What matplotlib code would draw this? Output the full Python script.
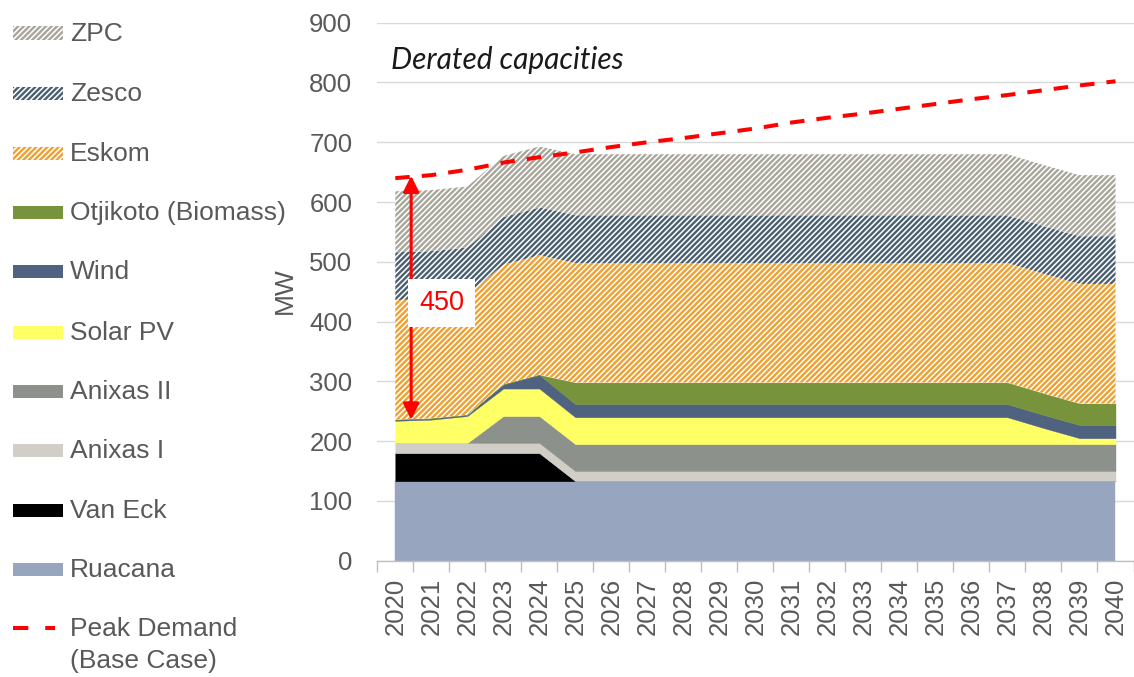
import matplotlib
matplotlib.use("Agg")
import matplotlib.pyplot as plt
import numpy as np
from matplotlib.patches import Rectangle
from matplotlib.lines import Line2D

plt.rcParams['font.family'] = ['Liberation Sans', 'DejaVu Sans']
plt.rcParams['hatch.linewidth'] = 1.7

# ---------------- data ----------------
years = list(range(2020, 2041))
ruacana   = [133] * 21
van_eck   = [47, 47, 47, 47, 47] + [0] * 16
anixas_1  = [17] * 21
anixas_2  = [0, 0, 0] + [45] * 18
solar_pv  = [37, 39, 45, 46, 46] + [45] * 13 + [27, 10, 10]
wind      = [2, 2, 2, 7, 23] + [22] * 16
otjikoto  = [0, 0, 0, 0, 0] + [36] * 16
eskom     = [200] * 21
zesco     = [80] * 21
zpc       = [102] * 21
peak_demand = [640, 645, 654, 666, 675, 683, 692, 700, 707, 715, 723,
               733, 741, 748, 756, 764, 772, 779, 787, 795, 802]
gap_label = "450"

series_names = ["Ruacana", "Van Eck", "Anixas I", "Anixas II", "Solar PV",
                "Wind", "Otjikoto (Biomass)", "Eskom", "Zesco", "ZPC"]
series_vals = [ruacana, van_eck, anixas_1, anixas_2, solar_pv,
               wind, otjikoto, eskom, zesco, zpc]
colors = ["#97A6BE", "#000000", "#D0CEC6", "#8C918B", "#FFFF66",
          "#4F6280", "#77933C", "#F0A030", "#4A6070", "#A8A59A"]
hatched = [False] * 7 + [True] * 3
HATCH = "//////"

# ---------------- figure ----------------
W, H = 1134, 677
fig = plt.figure(figsize=(W / 100, H / 100), dpi=100)
ax_left, ax_right = 377.3 / W, 1133.5 / W
ax_bottom, ax_top = 1 - 560.7 / H, 1 - 22.7 / H
ax = fig.add_axes([ax_left, ax_bottom, ax_right - ax_left, ax_top - ax_bottom])

x = np.arange(len(years))
base = np.zeros(len(years))
for name, vals, col, h in zip(series_names, series_vals, colors, hatched):
    top = base + np.array(vals, dtype=float)
    if h:
        ax.fill_between(x, base, top, facecolor="white", edgecolor=col,
                        hatch=HATCH, linewidth=0, zorder=2)
    else:
        ax.fill_between(x, base, top, facecolor=col, edgecolor=col,
                        linewidth=0.3, zorder=2)
    base = top

ax.plot(x, peak_demand, color="#FF0000", lw=2.9, dashes=(3.6, 3.0),
        dash_capstyle="butt", zorder=4)

# gap arrow at 2020
supply_excl_imports = sum(v[0] for v in series_vals[:7])
ax.annotate("", xy=(0.44, supply_excl_imports), xytext=(0.44, peak_demand[0] + 4),
            arrowprops=dict(arrowstyle="<|-|>", color="#FF0000", lw=2.2,
                            mutation_scale=24, shrinkA=0, shrinkB=0), zorder=5)
ax.text(1.28, 431, gap_label, color="#FF0000", fontsize=19.5, ha="center",
        va="center", zorder=6,
        bbox=dict(boxstyle="square,pad=0.42", facecolor="white", edgecolor="none"))

ax.text(-0.13, 837, "Derated capacities", fontsize=21.5, style="italic",
        family=["Lato", "DejaVu Sans"], color="#1A1A1A", ha="left", va="center")

# axes styling
ax.set_xlim(-0.5, len(years) - 0.5)
ax.set_ylim(0, 900)
ax.set_yticks(range(0, 901, 100))
ax.set_xticks(x)
ax.set_xticklabels([str(y) for y in years], rotation=90)
ax.set_xticks(np.arange(-0.5, len(years), 1.0), minor=True)
ax.tick_params(axis="x", which="major", length=0, pad=12.3, labelsize=18.5,
               labelcolor="#595959")
ax.tick_params(axis="x", which="minor", length=8, width=1, color="#BFBFBF",
               direction="out")
ax.tick_params(axis="y", length=0, pad=18, labelsize=18.5, labelcolor="#595959")
for s in ["left", "top", "right"]:
    ax.spines[s].set_visible(False)
ax.spines["bottom"].set_color("#BFBFBF")
ax.spines["bottom"].set_linewidth(1)
ax.yaxis.grid(True, color="#D9D9D9", lw=1)
ax.set_axisbelow(True)

fig.text(285 / W, 1 - 291 / H, "MW", rotation=90, fontsize=19, color="#595959",
         ha="center", va="center")

# ---------------- legend (manual) ----------------
legend_y = [33, 93, 153, 212, 271, 332, 391, 450, 510, 569]
order = list(range(len(series_names)))[::-1]
for yy, idx in zip(legend_y, order):
    rect = Rectangle((13 / W, 1 - (yy + 6.5) / H), 50 / W, 13 / H,
                     transform=fig.transFigure, figure=fig,
                     facecolor="white" if hatched[idx] else colors[idx],
                     edgecolor=colors[idx],
                     hatch=HATCH if hatched[idx] else None,
                     linewidth=0)
    fig.patches.append(rect)
    fig.text(70 / W, 1 - (yy + 1) / H, series_names[idx], fontsize=19,
             color="#595959", ha="left", va="center")

fig.lines.append(Line2D([13 / W, 55 / W], [1 - 628 / H, 1 - 628 / H],
                        transform=fig.transFigure, color="#FF0000", lw=2.9,
                        dashes=(3.8, 4.2)))
fig.text(70 / W, 1 - 629 / H, "Peak Demand", fontsize=19, color="#595959",
         ha="left", va="center")
fig.text(70 / W, 1 - 661 / H, "(Base Case)", fontsize=19, color="#595959",
         ha="left", va="center")

fig.savefig("out.png", dpi=100)
